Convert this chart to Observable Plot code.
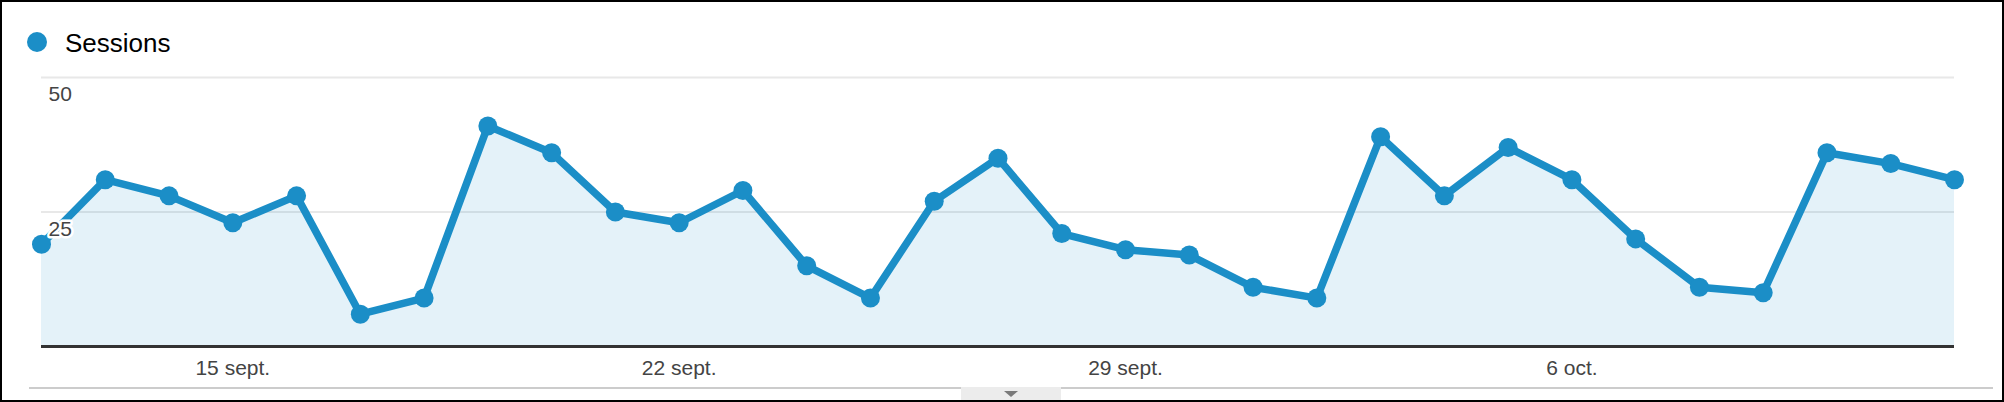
<!DOCTYPE html>
<html><head><meta charset="utf-8">
<script src="https://cdn.jsdelivr.net/npm/d3@7"></script>
<script src="https://cdn.jsdelivr.net/npm/@observablehq/plot@0.6"></script>
<style>
html,body{margin:0;padding:0;background:#fff;}
#wrap{position:relative;width:2004px;height:402px;overflow:hidden;font-family:"Liberation Sans",Arial,sans-serif;}
#frame{position:absolute;left:0;top:0;width:2004px;height:402px;box-sizing:border-box;border:2px solid #000;pointer-events:none;z-index:5;}
#legend{position:absolute;left:0;top:0;height:62px;width:2004px;}
#legend .dot{position:absolute;left:27px;top:31.5px;width:20px;height:20px;border-radius:50%;background:#1b8ec7;}
#legend .lab{position:absolute;left:65px;top:23px;font-size:26px;line-height:40px;color:#000;}
#chart{position:absolute;left:0;top:62px;}
#rule{position:absolute;left:29px;top:387px;width:1964px;height:2px;background:#ccc;}
#tab{position:absolute;left:961px;top:387px;width:100px;height:13px;background:#ececec;}
#tab .tri{position:absolute;left:43px;top:4px;width:0;height:0;border-left:7px solid transparent;border-right:7px solid transparent;border-top:6px solid #7a7a7a;}
</style></head>
<body>
<div id="wrap">
  <div id="legend"><div class="dot"></div><div class="lab">Sessions</div></div>
  <div id="chart"></div>
  <div id="rule"></div>
  <div id="tab"><div class="tri"></div></div>
  <div id="frame"></div>
</div>
<script>
const dates = ["2013-09-12","2013-09-13","2013-09-14","2013-09-15","2013-09-16","2013-09-17","2013-09-18","2013-09-19","2013-09-20","2013-09-21","2013-09-22","2013-09-23","2013-09-24","2013-09-25","2013-09-26","2013-09-27","2013-09-28","2013-09-29","2013-09-30","2013-10-01","2013-10-02","2013-10-03","2013-10-04","2013-10-05","2013-10-06","2013-10-07","2013-10-08","2013-10-09","2013-10-10","2013-10-11","2013-10-12"];
const sessions = [19,31,28,23,28,6,9,41,36,25,23,29,15,9,27,35,21,18,17,11,9,39,28,37,31,20,11,10,36,34,31];
const tickDates = ["2013-09-15","2013-09-22","2013-09-29","2013-10-06"];
const tickLabels = ["15 sept.","22 sept.","29 sept.","6 oct."];
const yTicks = [25, 50];

const parse = d => new Date(d + "T00:00:00Z");
const data = dates.map((d, i) => ({date: parse(d), value: sessions[i]}));
const ticks = tickDates.map(parse);
const labelOf = new Map(ticks.map((t, i) => [+t, tickLabels[i]]));
const blue = "#1b8ec7";

const chart = Plot.plot({
  width: 2004, height: 340,
  marginTop: 15, marginBottom: 56, marginLeft: 41, marginRight: 50,
  style: {fontFamily: "'Liberation Sans', Arial, sans-serif", fontSize: "21px", color: "#444", background: "transparent", overflow: "visible"},
  x: {type: "utc", domain: [data[0].date, data[data.length - 1].date]},
  y: {domain: [0, 50], axis: null},
  marks: [
    Plot.ruleY(yTicks, {stroke: "#e8e8e8", strokeWidth: 2}),
    Plot.areaY(data, {x: "date", y: "value", fill: "#058dc7", fillOpacity: 0.11}),
    Plot.ruleY([0], {stroke: "#333", strokeWidth: 3}),
    Plot.lineY(data, {x: "date", y: "value", stroke: blue, strokeWidth: 7.5, strokeLinejoin: "round"}),
    Plot.dot(data, {x: "date", y: "value", r: 9.5, fill: blue}),
    Plot.axisX(ticks, {tickSize: 0, tickPadding: 14, tickFormat: d => labelOf.get(+d), fill: "#444", fontSize: 21}),
    Plot.text(yTicks, {y: d => d, frameAnchor: "left", textAnchor: "start", lineAnchor: "top", dx: 7, dy: 9, text: d => String(d), fill: "#444", stroke: "white", strokeWidth: 5, strokeLinejoin: "round", paintOrder: "stroke", fontSize: 21})
  ]
});
document.getElementById("chart").appendChild(chart);
</script>
</body></html>
